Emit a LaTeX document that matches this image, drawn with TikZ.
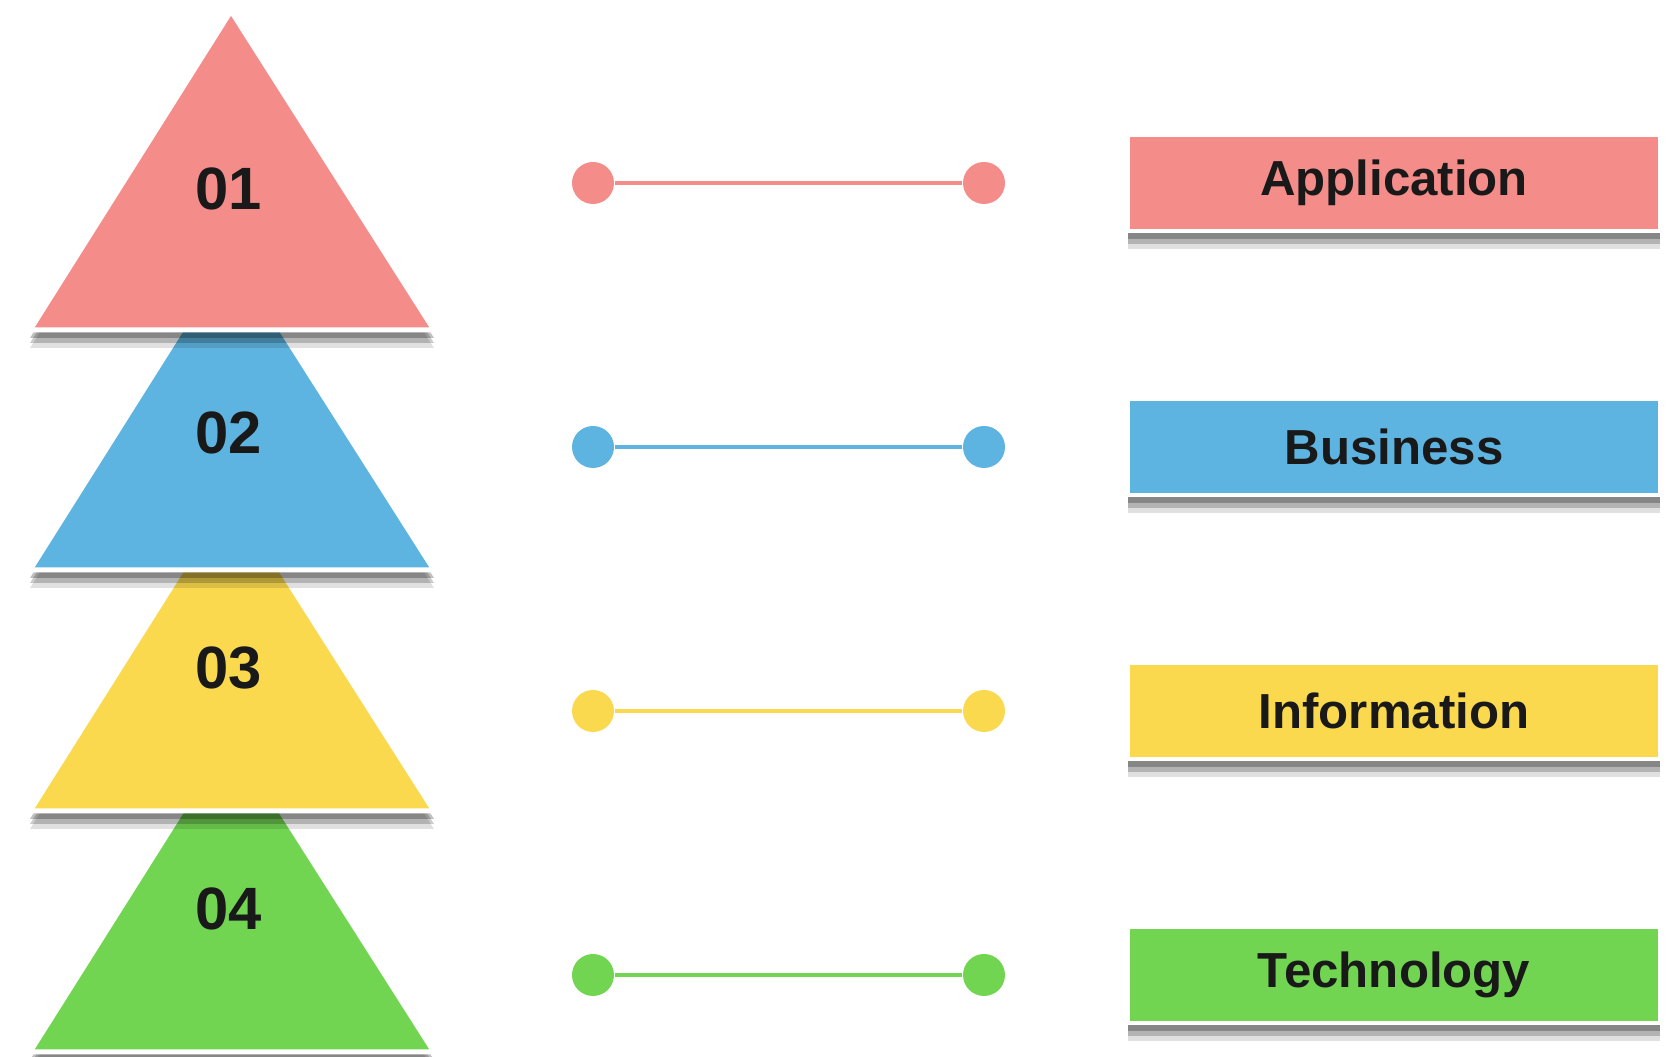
\documentclass[tikz,border=0pt]{standalone}
\usepackage{fontspec}
\setmainfont{Liberation Sans}
\usetikzlibrary{shadows}

\definecolor{appred}{HTML}{F48C8A}
\definecolor{busblue}{HTML}{5EB4E0}
\definecolor{infoyellow}{HTML}{FAD94E}
\definecolor{techgreen}{HTML}{72D552}

\tikzset{
  softshadow/.style={
    drop shadow={shadow xshift=0cm, shadow yshift=-0.18cm, opacity=0.12, fill=black},
    drop shadow={shadow xshift=0cm, shadow yshift=-0.13cm, opacity=0.2, fill=black},
    drop shadow={shadow xshift=0cm, shadow yshift=-0.08cm, opacity=0.25, fill=black}},
  tier/.style={draw=white, line width=0.05cm, line join=miter, softshadow},
  tiernum/.style={font=\fontsize{17}{17}\selectfont\bfseries, text=black!90, inner sep=0pt},
  dot/.style={circle, inner sep=0pt, minimum size=0.42cm},
  link/.style={line width=0.045cm},
  labelbox/.style={draw=white, line width=0.04cm, minimum width=5.32cm, minimum height=0.96cm,
    font=\fontsize{14}{14}\selectfont\bfseries, text=black!90, softshadow},
}

\begin{document}
\begin{tikzpicture}
  \useasboundingbox (0,0) rectangle (16.69,10.57);

  % Drawing tier 04
  \fill [techgreen, tier] (0.30,0.05) -- (4.34,0.05) -- (2.31,3.24) -- cycle;%
  \node [tiernum] (num04) at (2.29,1.48) {04};%

  % Drawing tier 03
  \fill [infoyellow, tier] (0.30,2.46) -- (4.34,2.46) -- (2.31,5.65) -- cycle;%
  \node [tiernum] (num03) at (2.29,3.89) {03};%

  % Drawing tier 02
  \fill [busblue, tier] (0.30,4.87) -- (4.34,4.87) -- (2.31,8.06) -- cycle;%
  \node [tiernum] (num02) at (2.29,6.24) {02};%

  % Drawing tier 01
  \fill [appred, tier] (0.30,7.27) -- (4.34,7.27) -- (2.31,10.46) -- cycle;%
  \node [tiernum] (num01) at (2.29,8.68) {01};%

  % Drawing link Application
  \node [dot, fill=appred] (app-l) at (5.93,8.74) {};%
  \node [dot, fill=appred] (app-r) at (9.84,8.74) {};%
  \draw [link, appred] (app-l) -- (app-r);%
  \node [labelbox, fill=appred] (app-box) at (13.94,8.74) {Application};%

  % Drawing link Business
  \node [dot, fill=busblue] (bus-l) at (5.93,6.10) {};%
  \node [dot, fill=busblue] (bus-r) at (9.84,6.10) {};%
  \draw [link, busblue] (bus-l) -- (bus-r);%
  \node [labelbox, fill=busblue] (bus-box) at (13.94,6.10) {Business};%

  % Drawing link Information
  \node [dot, fill=infoyellow] (info-l) at (5.93,3.46) {};%
  \node [dot, fill=infoyellow] (info-r) at (9.84,3.46) {};%
  \draw [link, infoyellow] (info-l) -- (info-r);%
  \node [labelbox, fill=infoyellow] (info-box) at (13.94,3.46) {Information};%

  % Drawing link Technology
  \node [dot, fill=techgreen] (tech-l) at (5.93,0.82) {};%
  \node [dot, fill=techgreen] (tech-r) at (9.84,0.82) {};%
  \draw [link, techgreen] (tech-l) -- (tech-r);%
  \node [labelbox, fill=techgreen] (tech-box) at (13.94,0.82) {Technology};%
\end{tikzpicture}
\end{document}
